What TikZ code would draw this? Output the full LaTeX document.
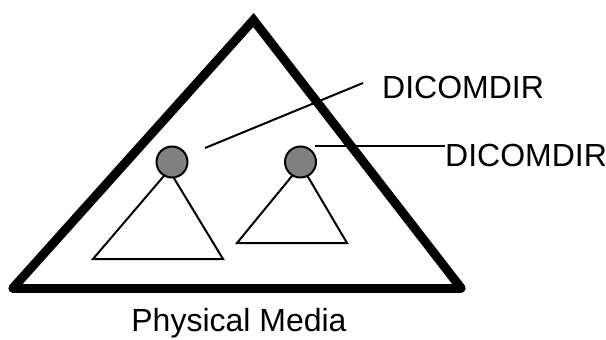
\documentclass[tikz,border=0pt]{standalone}
\usepackage{fontspec}
\setmainfont{Liberation Sans}
\definecolor{nodegray}{RGB}{128,128,128}
\tikzset{
  media/.style={line width=9pt, line join=miter, line cap=round},
  thinline/.style={line width=2pt},
  subtree/.style={line width=2pt, line join=miter},
  dirnode/.style={circle, draw, line width=2pt, fill=nodegray, minimum size=31pt, inner sep=0pt},
  lbl/.style={font=\fontsize{32}{38}\selectfont, inner sep=0pt, anchor=base west},
}
\begin{document}
\begin{tikzpicture}[x=1pt, y=-1pt]
\useasboundingbox (0,0) rectangle (606,340);
% physical media
\coordinate (A) at (253.5,20);
\coordinate (BL) at (13,288);
\coordinate (BR) at (461,288);
\draw[media] (BL) -- (A) -- (BR);
\draw[media] (BL) -- (BR);
% sub-trees
\coordinate (la) at (169,170);
\coordinate (lb1) at (93,259);
\coordinate (lb2) at (223,259);
\draw[subtree] (la) -- (lb1) -- (lb2) -- cycle;
\coordinate (ra) at (301,165);
\coordinate (rb1) at (237,243);
\coordinate (rb2) at (347,243);
\draw[subtree] (ra) -- (rb1) -- (rb2) -- cycle;
% directory roots
\node[dirnode] (c1) at (172,162) {};
\node[dirnode] (c2) at (300.5,162) {};
% labels
\node[lbl] (t1) at (382,98) {DICOMDIR};
\node[lbl] (t2) at (445,166) {DICOMDIR};
\node[lbl, anchor=base] (pm) at (239,331) {Physical Media};
% leaders
\coordinate (l1s) at (205,148);
\coordinate (l1e) at (363,83);
\draw[thinline] (l1s) -- (l1e);
\coordinate (l2s) at (315,146);
\draw[thinline] (l2s) -- (l2s -| t2.west);
\end{tikzpicture}
\end{document}
